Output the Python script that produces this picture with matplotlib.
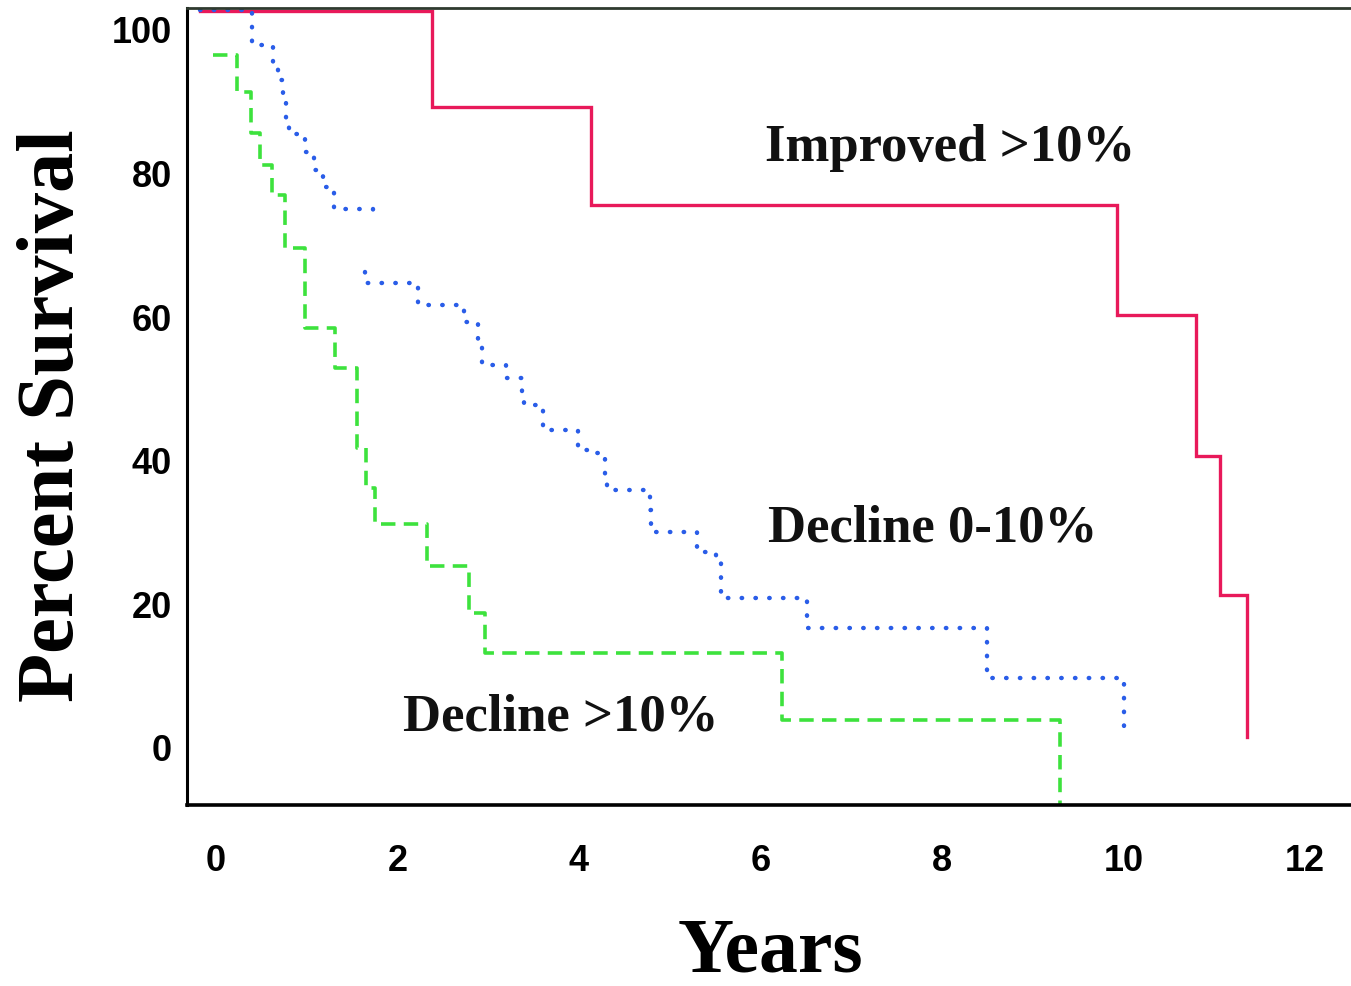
import matplotlib
matplotlib.use('Agg')
import matplotlib.pyplot as plt

# ---- data ----
improved_t = [-0.18, 2.38, 4.13, 9.93, 10.80, 11.06, 11.36]
improved_s = [102.6, 89.3, 75.6, 60.3, 40.7, 21.3, 1.5]

decl010_t1 = [-0.18, 0.40, 0.63, 0.68, 0.74, 0.77, 0.80, 0.98, 1.08, 1.18, 1.30, 1.73]
decl010_s1 = [102.8, 97.9, 95.5, 93.0, 90.3, 87.7, 85.5, 83.0, 80.5, 78.1, 75.1, 73.3]
decl010_t2 = [1.64, 1.64, 2.23, 2.73, 2.89, 2.93, 3.20, 3.37, 3.39, 3.60, 3.99, 4.14,
              4.29, 4.31, 4.78, 4.79, 5.30, 5.51, 5.57, 6.51, 8.50, 10.01]
decl010_s2 = [66.3, 64.8, 61.7, 59.3, 55.8, 53.3, 51.5, 49.4, 47.8, 44.3, 41.5, 41.1,
              38.0, 35.9, 33.1, 30.1, 27.3, 25.9, 20.9, 16.7, 9.7, 2.5]

decl10_t = [-0.03, 0.23, 0.38, 0.49, 0.62, 0.76, 0.98, 1.31, 1.55, 1.65, 1.75, 2.33,
            2.79, 2.96, 6.24, 9.30]
decl10_s = [96.5, 91.4, 85.7, 81.2, 77.0, 69.6, 58.5, 52.9, 41.8, 36.2, 31.2, 25.3,
            18.8, 13.2, 3.9, -8.0]

x_ticks = [0, 2, 4, 6, 8, 10, 12]
y_ticks = [0, 20, 40, 60, 80, 100]

labels = ["Improved >10%", "Decline 0-10%", "Decline >10%"]
label_pos = [(6.05, 83.6), (6.08, 30.6), (2.06, 4.3)]

red = '#E8195A'
blue = '#2A5DE8'
green = '#3DE23D'

fig = plt.figure(figsize=(13.51, 9.86), dpi=100)
ax = fig.add_axes([0.1384, 0.1836, 0.8616, 0.8083])

ax.plot(improved_t, improved_s, drawstyle='steps-post', color=red, lw=2.4,
        solid_joinstyle='miter')
for t, s in [(decl010_t1, decl010_s1), (decl010_t2, decl010_s2)]:
    ax.plot(t, s, drawstyle='steps-post', color=blue, lw=3.2,
            linestyle=(0, (0.1, 3.0)), dash_capstyle='round')
ax.plot(decl10_t, decl10_s, drawstyle='steps-post', color=green, lw=2.6,
        linestyle=(0, (4, 2.3)))

ax.set_xlim(-0.32, 12.507)
ax.set_ylim(-7.94, 103.06)

ax.set_xticks(x_ticks)
ax.set_yticks(y_ticks)
ax.tick_params(length=0)
ax.tick_params(axis='x', pad=28)
ax.tick_params(axis='y', pad=11)
for lab in ax.get_xticklabels() + ax.get_yticklabels():
    lab.set_fontfamily('Liberation Sans')
    lab.set_fontweight('bold')
    lab.set_fontsize(26)

ax.spines['right'].set_visible(False)
ax.spines['left'].set_linewidth(2.2)
ax.spines['bottom'].set_linewidth(2.6)
ax.spines['top'].set_linewidth(2.0)
ax.spines['top'].set_color('#2f3a2f')

ax.set_xlabel('Years', fontfamily='Liberation Serif', fontweight='bold',
              fontsize=56, va='center', ha='center')
ax.xaxis.set_label_coords(0.501, -0.186)
ax.set_ylabel('Percent Survival', fontfamily='Liberation Serif', fontweight='bold',
              fontsize=58, va='center', ha='center')
ax.yaxis.set_label_coords(-0.115, 0.489)

for txt, (x, y) in zip(labels, label_pos):
    ax.text(x, y, txt, fontfamily='Liberation Serif', fontweight='bold',
            fontsize=38, ha='left', va='center', color='#111111')

fig.savefig('out.png', dpi=100)
